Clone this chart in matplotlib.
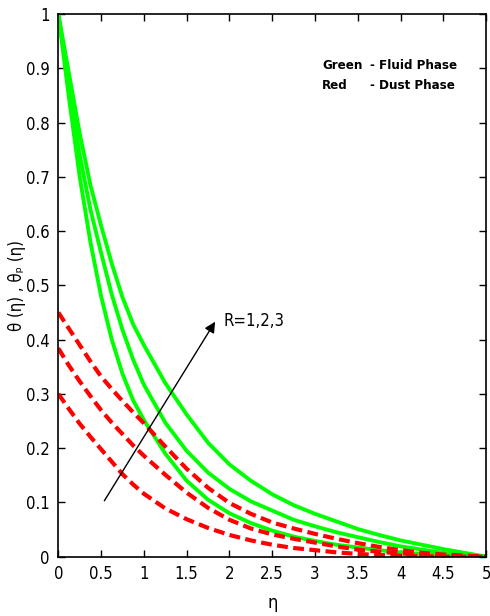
import matplotlib
matplotlib.use("Agg")
import matplotlib.pyplot as plt
import numpy as np

eta = [0, 0.125, 0.25, 0.375, 0.5, 0.625, 0.75, 0.875, 1.0, 1.25, 1.5, 1.75, 2.0, 2.25,
       2.5, 2.75, 3.0, 3.25, 3.5, 3.75, 4.0, 4.25, 4.5, 4.75, 5.0]

# Fluid phase (green), R = 1, 2, 3
theta_R1 = [1.0, 0.845, 0.70, 0.58, 0.48, 0.40, 0.337, 0.288, 0.252, 0.19, 0.14, 0.105,
            0.08, 0.062, 0.048, 0.037, 0.029, 0.022, 0.017, 0.012, 0.008, 0.005, 0.003,
            0.001, 0.0]
theta_R2 = [1.0, 0.87, 0.74, 0.64, 0.56, 0.483, 0.418, 0.363, 0.317, 0.247, 0.195, 0.155,
            0.125, 0.102, 0.085, 0.068, 0.056, 0.045, 0.036, 0.027, 0.019, 0.013, 0.007,
            0.003, 0.0]
theta_R3 = [1.0, 0.89, 0.78, 0.685, 0.61, 0.54, 0.478, 0.428, 0.39, 0.32, 0.262, 0.21,
            0.17, 0.14, 0.115, 0.095, 0.079, 0.065, 0.051, 0.040, 0.030, 0.022, 0.014,
            0.007, 0.0]

# Dust phase (red dashed), R = 1, 2, 3
thetap_R1 = [0.30, 0.272, 0.245, 0.221, 0.198, 0.175, 0.152, 0.133, 0.116, 0.089, 0.069,
             0.053, 0.040, 0.030, 0.022, 0.016, 0.012, 0.008, 0.005, 0.003, 0.002, 0.001,
             0.0, 0.0, 0.0]
thetap_R2 = [0.384, 0.352, 0.323, 0.296, 0.27, 0.247, 0.226, 0.205, 0.186, 0.151, 0.118,
             0.09, 0.068, 0.052, 0.041, 0.033, 0.026, 0.019, 0.013, 0.009, 0.006, 0.003,
             0.002, 0.001, 0.0]
thetap_R3 = [0.45, 0.42, 0.39, 0.36, 0.332, 0.309, 0.287, 0.266, 0.246, 0.203, 0.162,
             0.127, 0.099, 0.079, 0.063, 0.052, 0.042, 0.033, 0.025, 0.018, 0.012, 0.007,
             0.004, 0.002, 0.0]

xticks = [0, 0.5, 1, 1.5, 2, 2.5, 3, 3.5, 4, 4.5, 5]
xticklabels = ['0', '0.5', '1', '1.5', '2', '2.5', '3', '3.5', '4', '4.5', '5']
yticks = [0, 0.1, 0.2, 0.3, 0.4, 0.5, 0.6, 0.7, 0.8, 0.9, 1.0]
yticklabels = ['0', '0.1', '0.2', '0.3', '0.4', '0.5', '0.6', '0.7', '0.8', '0.9', '1']

plt.rcParams['font.family'] = ['DejaVu Sans']
plt.rcParams['font.stretch'] = 'condensed'

fig = plt.figure(figsize=(4.9, 6.16), dpi=100)
ax = fig.add_axes([0.119, 0.0963, 0.873, 0.881])

for th in (theta_R1, theta_R2, theta_R3):
    ax.plot(eta, th, color='#00ff00', lw=2.8, solid_joinstyle='round')
for th in (thetap_R1, thetap_R2, thetap_R3):
    ax.plot(eta, th, color='#ff0000', lw=3.0, dashes=(2.6, 1.3))

ax.set_xlim(0, 5)
ax.set_ylim(0, 1)
ax.set_xticks(xticks)
ax.set_xticklabels(xticklabels)
ax.set_yticks(yticks)
ax.set_yticklabels(yticklabels)
ax.tick_params(direction='in', length=5, width=1, top=True, right=True,
               labelsize=12, pad=6)
for s in ax.spines.values():
    s.set_linewidth(1.2)

ax.set_xlabel('η', fontsize=13, labelpad=8)
ax.set_ylabel('θ (η) , θₚ (η)', fontsize=12)
ax.yaxis.set_label_coords(-0.075, 0.5)

ax.annotate('', xy=(1.833, 0.433), xytext=(0.538, 0.103),
            arrowprops=dict(arrowstyle='-|>', color='black', lw=1.0,
                            mutation_scale=16, shrinkA=0, shrinkB=0))
ax.text(1.93, 0.435, 'R=1,2,3', fontsize=12, va='center', ha='left')

ax.text(3.084, 0.898, 'Green', fontsize=9.5, fontweight='bold', va='baseline', ha='left')
ax.text(3.64, 0.898, '- Fluid Phase', fontsize=9.5, fontweight='bold', va='baseline', ha='left')
ax.text(3.084, 0.861, 'Red', fontsize=9.5, fontweight='bold', va='baseline', ha='left')
ax.text(3.64, 0.861, '- Dust Phase', fontsize=9.5, fontweight='bold', va='baseline', ha='left')

fig.savefig('out.png', dpi=100)
